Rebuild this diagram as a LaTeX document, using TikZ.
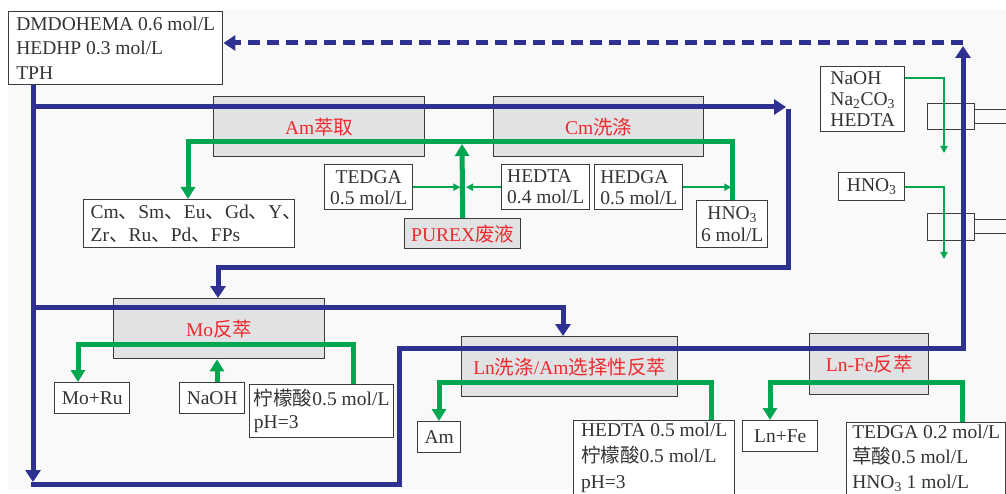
\documentclass[tikz,border=0pt]{standalone}
\usepackage{fontspec}
\setmainfont{Liberation Serif}
\newfontfamily\zhfont{Noto Sans CJK SC}
\usepackage{tikz}
\usetikzlibrary{arrows.meta}
\usepackage{xcolor}
\definecolor{flowblue}{HTML}{2E3192}
\definecolor{flowgreen}{HTML}{00A650}
\definecolor{stagered}{HTML}{EE2A2F}
\definecolor{stagegray}{HTML}{E1E2E4}
\definecolor{edgegray}{HTML}{3C3C3C}
\definecolor{panelgray}{HTML}{F9F9F9}
\newcommand{\zhtext}[1]{{\zhfont #1}}
\newcommand{\dunhao}{\zhtext{、}}

\begin{document}
\begin{tikzpicture}[x=1pt, y=-1pt,
        font=\fontsize{19.5}{22}\selectfont,
        stage/.style={rectangle, draw=edgegray, fill=stagegray, line width=1.4pt,
                      text=stagered, anchor=north west, inner sep=0pt},
        feed/.style={rectangle, draw=edgegray, fill=white, line width=1.4pt,
                     text=black!80, anchor=north west, inner sep=2pt, align=left},
        mixer/.style={rectangle, draw=edgegray, line width=1.2pt,
                      anchor=north west, inner sep=0pt},
        organic/.style={draw=flowblue, line width=5pt},
        orgarr/.style={organic, -{Triangle[length=12pt, width=15pt]}},
        aqueous/.style={draw=flowgreen, line width=5pt},
        aqarr/.style={aqueous, -{Triangle[length=12pt, width=14pt]}},
        thinfeed/.style={draw=flowgreen, line width=1.8pt, -{Triangle[length=7pt, width=7pt]}}
    ]
        \useasboundingbox (0,0) rectangle (1006,494);
        \clip (0,0) rectangle (1006,494);
        \fill[white] (0,0) rectangle (1006,494);
        \fill[panelgray] (8,10) rectangle (1006,489);

        % contactors on the right
        \node[mixer, minimum width=47pt, minimum height=26pt] (mixone) at (927,103) {};
        \node[mixer, minimum width=40pt, minimum height=14pt] (pipeone) at (974,109) {};
        \node[mixer, minimum width=47pt, minimum height=27pt] (mixtwo) at (927,213) {};
        \node[mixer, minimum width=40pt, minimum height=14pt] (pipetwo) at (974,219) {};

        % stages
        \node[stage, minimum width=211pt, minimum height=60pt] (amext) at (213,96) {Am\zhtext{萃取}};
        \node[stage, minimum width=210pt, minimum height=60pt] (cmscrub) at (493,96) {Cm\zhtext{洗涤}};
        \node[stage, minimum width=211pt, minimum height=60pt] (moback) at (113,298) {Mo\zhtext{反萃}};
        \node[stage, minimum width=216pt, minimum height=60pt] (lnscrub) at (461,336) {Ln\zhtext{洗涤}/Am\zhtext{选择性反萃}};
        \node[stage, minimum width=119pt, minimum height=61pt] (lnfe) at (809,333) {Ln-Fe\zhtext{反萃}};
        \node[stage, minimum width=116pt, minimum height=30pt] (purex) at (404,218) {PUREX\zhtext{废液}};

        % solvent, feeds and products
        \node[feed, minimum width=214pt, minimum height=73pt, font=\fontsize{19.5}{24.5}\selectfont]
            (solvent) at (8,11) {DMDOHEMA 0.6 mol/L\\HEDHP 0.3 mol/L\\TPH};
        \node[feed, text width=197pt, inner xsep=7pt, inner ysep=0pt, minimum height=48pt, font=\fontsize{19.5}{23}\selectfont]
            (lanth) at (83,199) {Cm\dunhao Sm\dunhao Eu\dunhao Gd\dunhao Y\dunhao\\Zr\dunhao Ru\dunhao Pd\dunhao FPs};
        \node[feed, align=center, minimum width=88pt, minimum height=45pt, font=\fontsize{19.5}{21}\selectfont]
            (tedgaa) at (324,164) {TEDGA\\0.5 mol/L};
        \node[feed, minimum width=88pt, minimum height=45pt, font=\fontsize{19.5}{21}\selectfont]
            (hedtaa) at (501,164) {HEDTA\\0.4 mol/L};
        \node[feed, minimum width=88pt, minimum height=45pt, font=\fontsize{19.5}{21}\selectfont]
            (hedgaa) at (594,164) {HEDGA\\0.5 mol/L};
        \node[feed, align=center, minimum width=71pt, minimum height=47pt, font=\fontsize{19.5}{22}\selectfont]
            (hno3a) at (696,200) {HNO\textsubscript{3}\\6 mol/L};
        \node[feed, minimum width=84pt, minimum height=65pt, font=\fontsize{19.5}{21}\selectfont]
            (washmix) at (820,66) {NaOH\\Na\textsubscript{2}CO\textsubscript{3}\\HEDTA};
        \node[feed, minimum width=66pt, minimum height=28pt] (hno3b) at (838,172) {HNO\textsubscript{3}};
        \node[feed, minimum width=75pt, minimum height=31pt] (moru) at (54,382) {Mo+Ru};
        \node[feed, minimum width=65pt, minimum height=31pt] (naohb) at (179,382) {NaOH};
        \node[feed, minimum width=144pt, minimum height=53pt, font=\fontsize{19.5}{23}\selectfont]
            (citrica) at (249,384) {\zhtext{柠檬酸}0.5 mol/L\\pH=3};
        \node[feed, minimum width=43pt, minimum height=31pt] (amprod) at (417,421) {Am};
        \node[feed, minimum width=161pt, font=\fontsize{19.5}{26}\selectfont]
            (hedtab) at (573,420) {HEDTA 0.5 mol/L\\\zhtext{柠檬酸}0.5 mol/L\\pH=3\\\mbox{}};
        \node[feed, minimum width=75pt, minimum height=31pt] (lnfeprod) at (742,420) {Ln+Fe};
        \node[feed, minimum width=159pt, font=\fontsize{19.5}{25}\selectfont]
            (tedgab) at (846,422) {TEDGA 0.2 mol/L\\\zhtext{草酸}0.5 mol/L\\HNO\textsubscript{3} 1 mol/L\\\mbox{}};

        % organic phase
        \draw[orgarr] (solvent.south -| 33,0) -- (33,482);
        \draw[orgarr] (33,107) -- (786,107);
        \draw[orgarr] (788,109) -- (788,268) -- (218,268) -- (218,0 |- moback.north);
        \draw[orgarr] (33,307) -- (563,307) -- (563,0 |- lnscrub.north);
        \draw[orgarr] (30.5,484) -- (399,484) -- (399,348) -- (963,348) -- (963,46);
        \draw[orgarr, dash pattern=on 12pt off 7pt] (963,43) -- (solvent.east |- 963,43);

        % aqueous phase
        \draw[aqarr] (hno3a.north -| 732,0) -- (732,142) -- (188,142) -- (188,0 |- lanth.north);
        \draw[aqarr] (purex.north) -- (462,144);
        \draw[thinfeed] (tedgaa.east) -- +(47,0);
        \draw[thinfeed] (hedtaa.west) -- +(-35,0);
        \draw[thinfeed] (hedgaa.east) -- +(48,0);
        \draw[aqarr] (citrica.north -| 353,0) -- (353,344) -- (78,344) -- (78,0 |- moru.north);
        \draw[aqarr] (217,0 |- naohb.north) -- (217,0 |- moback.south);
        \draw[aqarr] (hedtab.north -| 711,0) -- (711,382) -- (439,382) -- (439,0 |- amprod.north);
        \draw[aqarr] (tedgab.north -| 962,0) -- (962,382) -- (770,382) -- (770,0 |- lnfeprod.north);
        \draw[thinfeed] (washmix.east |- 0,78) -- (944,78) -- (944,153);
        \draw[thinfeed] (hno3b.east) -- (944,0 |- hno3b.east) -- (944,259);
    \end{tikzpicture}
\end{document}
